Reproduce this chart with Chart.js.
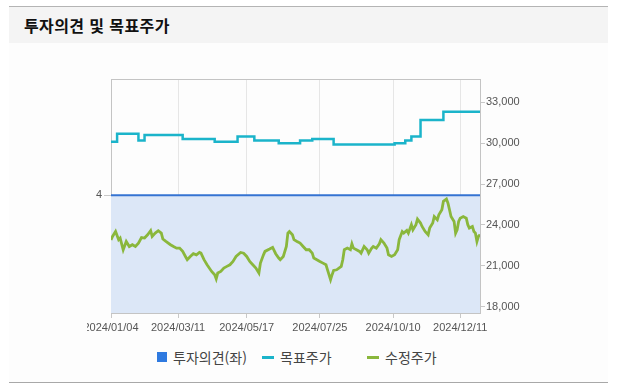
<!DOCTYPE html>
<html lang="ko">
<head>
<meta charset="utf-8">
<title>투자의견 및 목표주가</title>
<script src="https://cdn.jsdelivr.net/npm/chart.js@4.4.1/dist/chart.umd.min.js"></script>
<style>
	html, body {
		margin: 0;
		padding: 0;
		background: #ffffff;
	}
	body {
		width: 620px;
		height: 387px;
		position: relative;
		overflow: hidden;
		font-family: "Noto Sans CJK KR", "Noto Sans", sans-serif;
	}
	.panel {
		position: absolute;
		left: 9px;
		top: 6px;
		width: 599px;
		height: 375px;
		border-top: 1px solid #b4b4b4;
		border-bottom: 1px solid #a8a8a8;
		background: #fdfdfd;
	}
	.panel-head {
		height: 36px;
		background: #f4f4f4;
		padding-left: 15px;
		line-height: 36px;
		font-size: 16px;
		font-weight: bold;
		color: #111111;
		letter-spacing: 0.4px;
	}
	.chart-clip {
		position: absolute;
		left: 87px;
		top: 60px;
		width: 457px;
		height: 280px;
		overflow: hidden;
	}
	.chart-box {
		position: absolute;
		left: -27px;
		top: 0;
		width: 480px;
		height: 280px;
	}
	#legend {
		position: absolute;
		left: 157px;
		top: 347px;
		display: flex;
		font-size: 14px;
		color: #444444;
	}
	#legend .item {
		width: 105px;
		height: 20px;
		display: flex;
		align-items: center;
		white-space: nowrap;
	}
	#legend .mark {
		display: inline-block;
		margin-right: 6px;
	}
</style>
</head>
<body>
<div class="panel"><div class="panel-head">투자의견 및 목표주가</div></div>
<div class="chart-clip"><div class="chart-box"><canvas id="opinionChart" width="480" height="280"></canvas></div></div>
<div id="legend"></div>
<script>
	// x positions are trading-day numbers, 2024/01/04 = 0 ... 2024/12/30 = 242
	const lastDay = 242;
	const tickDays = [0, 44, 89, 137, 185, 229];
	const tickLabels = ['2024/01/04', '2024/03/11', '2024/05/17', '2024/07/25', '2024/10/10', '2024/12/11'];
	const priceTicks = [18000, 21000, 24000, 27000, 30000, 33000];

	const seriesNames = ['투자의견(좌)', '목표주가', '수정주가'];

	const opinionDays = [0, 242];
	const opinionValues = [4, 4];

	const targetDays = [0, 4, 18, 22, 47, 68, 83, 94, 110, 124, 132, 146, 186, 193, 197, 203, 218, 242];
	const targetValues = [30100, 30700, 30200, 30600, 30300, 30100, 30500, 30200, 30000, 30200, 30300, 29900, 30000, 30200, 30500, 31700, 32300, 32300];

	const priceDays = [
		0, 1, 3, 5, 6, 8, 10, 12, 14, 16, 18, 20, 22, 24, 26, 27, 29, 31, 33, 34,
		36, 39, 41, 43, 45, 47, 49, 50, 52, 54, 56, 58, 59, 61, 63, 66, 68, 69, 70, 72,
		74, 76, 78, 80, 82, 85, 87, 89, 91, 93, 95, 97, 98, 100, 101, 104, 106, 108, 110, 111,
		113, 115, 116, 117, 119, 120, 122, 124, 126, 128, 130, 132, 133, 135, 137, 139, 141, 142, 144, 145,
		146, 148, 151, 152, 153, 155, 157, 158, 159, 161, 163, 164, 166, 168, 169, 171, 172, 174, 176, 177,
		179, 181, 182, 184, 186, 188, 189, 191, 192, 194, 195, 197, 198, 200, 201, 203, 204, 206, 208, 209,
		211, 212, 214, 215, 217, 218, 220, 221, 222, 223, 225, 226, 227, 228, 229, 231, 233, 234, 235, 237,
		238, 239, 240, 241, 242
	];
	const priceValues = [
		22900, 23160, 23520, 22920, 23040, 22180, 22790, 22420, 22550, 22420, 22670, 23080, 23040, 23280, 23580, 23160, 23400, 23580, 23400, 22970,
		22790, 22550, 22420, 22300, 22300, 22060, 21650, 21450, 21690, 21890, 21810, 21980, 21930, 21450, 21080, 20590, 20350, 20050, 20470, 20590,
		20840, 20960, 21080, 21320, 21690, 21980, 21930, 21690, 21320, 21080, 20840, 20470, 21200, 21810, 22060, 22230, 22350, 21890, 21570, 21450,
		21690, 22420, 23400, 23520, 23280, 22920, 22790, 22670, 22420, 22180, 22180, 21930, 21570, 21450, 21320, 21200, 21080, 20710, 19980, 20350,
		20660, 20710, 20960, 21450, 22180, 22300, 22180, 22620, 22300, 22180, 22060, 21930, 22420, 22180, 21930, 22300, 22420, 22300, 22620, 22920,
		22670, 22300, 21810, 21690, 21810, 22180, 22920, 23520, 23400, 23600, 23400, 24020, 23650, 24020, 24430, 24140, 23890, 23520, 23280, 23770,
		24140, 24620, 24380, 24750, 25120, 25730, 25900, 25600, 25120, 24620, 24260, 23400, 23650, 24260, 24500, 24620, 24500, 24020, 23770, 23890,
		23520, 23400, 22790, 23160, 23300
	];

	function toPoints(days, values) {
		return days.map((day, i) => ({ x: day, y: values[i] }));
	}
</script>
<script>
(() => {
	'use strict'

	const ctx = document.getElementById('opinionChart');
	const legendBox = document.getElementById('legend');
	const numberFormatter = new Intl.NumberFormat('en-US', { maximumFractionDigits: 0 });
	const tickFont = { family: '"Liberation Sans", Arial, sans-serif', size: 11 };

	const plotBorder = {
		id: 'plotBorder',
		afterDatasetsDraw(chart) {
			const area = chart.chartArea;
			const c = chart.ctx;
			c.save();
			c.strokeStyle = '#c4c4c4';
			c.lineWidth = 1;
			c.beginPath();
			c.moveTo(area.left, area.top + 0.5);
			c.lineTo(area.right, area.top + 0.5);
			c.stroke();
			c.restore();
		}
	};

	const htmlLegend = {
		id: 'htmlLegend',
		afterUpdate(chart) {
			legendBox.innerHTML = '';
			chart.data.datasets.forEach((dataset, i) => {
				const item = document.createElement('div');
				item.className = 'item';
				const mark = document.createElement('span');
				mark.className = 'mark';
				if (i === 0) {
					mark.style.width = '10px';
					mark.style.height = '10px';
					mark.style.background = '#2f7ae0';
				} else {
					mark.style.width = '12px';
					mark.style.height = '3px';
					mark.style.background = dataset.borderColor;
				}
				item.appendChild(mark);
				item.appendChild(document.createTextNode(dataset.label));
				legendBox.appendChild(item);
			});
		}
	};

	new Chart(ctx, {
		type: 'line',
		data: {
			datasets: [
				{
					label: seriesNames[0],
					data: toPoints(opinionDays, opinionValues),
					yAxisID: 'yLeft',
					borderColor: '#3573d2',
					borderWidth: 2,
					backgroundColor: '#dce7f7',
					fill: 'origin',
					pointRadius: 0
				},
				{
					label: seriesNames[1],
					data: toPoints(targetDays, targetValues),
					yAxisID: 'yRight',
					borderColor: '#1bb4ca',
					borderWidth: 2.5,
					stepped: true,
					fill: false,
					pointRadius: 0
				},
				{
					label: seriesNames[2],
					data: toPoints(priceDays, priceValues),
					yAxisID: 'yRight',
					borderColor: '#8ab73c',
					borderWidth: 2.8,
					tension: 0,
					fill: false,
					pointRadius: 0
				}
			]
		},
		options: {
			responsive: false,
			animation: false,
			layout: {
				padding: { top: 19, left: 0, right: 0, bottom: 0 }
			},
			plugins: {
				legend: { display: false },
				tooltip: { enabled: false },
				filler: { drawTime: 'beforeDatasetsDraw' }
			},
			scales: {
				x: {
					type: 'linear',
					min: 0,
					max: lastDay,
					afterBuildTicks: (axis) => {
						axis.ticks = tickDays.map((day) => ({ value: day }));
					},
					afterFit: (axis) => {
						axis.height = 27;
					},
					grid: {
						color: '#e6e6e6',
						tickColor: '#c8c8c8',
						tickLength: 5
					},
					border: { color: '#c4c4c4' },
					ticks: {
						autoSkip: false,
						maxRotation: 0,
						padding: 3,
						color: '#555555',
						font: tickFont,
						callback: (value) => tickLabels[tickDays.indexOf(value)] || ''
					}
				},
				yLeft: {
					position: 'left',
					min: 0,
					max: 7.95,
					afterBuildTicks: (axis) => {
						axis.ticks = [{ value: 4 }];
					},
					afterFit: (axis) => {
						axis.width = 51;
					},
					grid: {
						drawOnChartArea: false,
						tickColor: '#c8c8c8',
						tickLength: 7
					},
					border: { color: '#c4c4c4' },
					ticks: {
						padding: 2,
						color: '#555555',
						font: tickFont
					}
				},
				yRight: {
					position: 'right',
					min: 17540,
					max: 34710,
					afterBuildTicks: (axis) => {
						axis.ticks = priceTicks.map((value) => ({ value }));
					},
					afterFit: (axis) => {
						axis.width = 60;
					},
					grid: {
						drawOnChartArea: false,
						tickColor: '#c8c8c8',
						tickLength: 5
					},
					border: { color: '#c4c4c4' },
					ticks: {
						padding: 1,
						color: '#555555',
						font: tickFont,
						callback: (value) => numberFormatter.format(value)
					}
				}
			}
		},
		plugins: [plotBorder, htmlLegend]
	});
})()
</script>
</body>
</html>
